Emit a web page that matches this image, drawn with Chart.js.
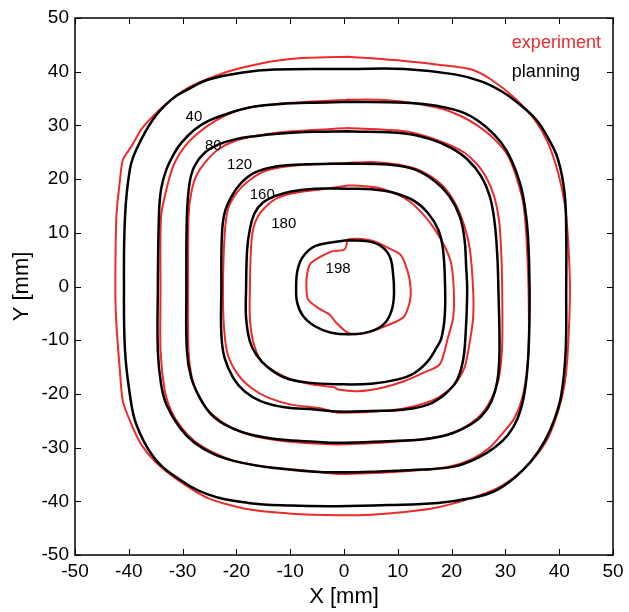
<!DOCTYPE html>
<html>
<head>
<meta charset="utf-8">
<script src="https://cdn.jsdelivr.net/npm/chart.js@4.4.0/dist/chart.umd.min.js"></script>
<style>
  body { margin: 0; background: #fff; }
  #chart { display: block; }
</style>
</head>
<body>
<canvas id="chart" width="629" height="612"></canvas>
<script>
// contour points, [x mm, y mm]
var plan40 = [[0.7,40.5],[11.3,40.5],[20.6,39.5],[25.5,38.2],[29.2,36.4],[32.3,34.2],[35.7,31.1],[37.9,27.7],[39.8,23.6],[41.0,17.4],[41.3,10],[41.3,-0.6],[41.2,-12.0],[40.4,-20.1],[39.2,-24.5],[37.3,-28.8],[34.8,-32.5],[31.7,-35.6],[28.0,-38.1],[23.7,-39.4],[17.5,-40.3],[8.2,-40.7],[-1.1,-40.9],[-9.8,-40.8],[-17.8,-40.3],[-25.3,-38.7],[-31.5,-35.3],[-35.5,-31.6],[-38.6,-25.7],[-39.8,-20.1],[-40.7,-12.0],[-40.9,-0.6],[-40.7,13.1],[-39.8,21.8],[-38.6,25.5],[-35.5,31.1],[-32.1,34.8],[-29.0,36.7],[-25.3,38.5],[-19.1,39.8],[-12.9,40.4],[0.7,40.5]];
var plan80 = [[0.7,34.4],[11.3,34.2],[17.5,33.6],[22.4,32.3],[26.2,29.9],[29.2,26.8],[31.1,23.6],[32.7,19.3],[33.6,15.0],[34.2,9.4],[34.5,-0.6],[34.3,-12.0],[33.6,-19.5],[32.3,-24.5],[30.5,-27.6],[28.0,-30.0],[24.9,-31.9],[20.6,-33.5],[14.4,-34.1],[5.1,-34.5],[-1.1,-34.6],[-5.4,-34.5],[-12.9,-33.8],[-19.1,-32.8],[-24.0,-31.3],[-27.8,-29.1],[-30.5,-26.3],[-33.0,-22.0],[-34.0,-18.2],[-34.6,-12.0],[-34.6,-0.6],[-34.4,13.1],[-34.0,18.1],[-33.0,21.8],[-31.5,24.9],[-30.2,26.8],[-27.8,29.2],[-25.3,30.8],[-22.2,32.0],[-17.8,33.3],[-12.9,33.9],[-6.7,34.2],[0.7,34.4]];
var plan120 = [[0.7,28.9],[11.3,28.5],[16.2,27.4],[19.9,25.8],[23.0,23.6],[25.5,20.5],[27.1,16.8],[28.0,11.9],[28.5,5.6],[28.7,-0.6],[28.9,-12.0],[28.5,-17.6],[27.4,-21.4],[25.5,-24.2],[23.0,-26.0],[19.3,-27.6],[14.4,-28.5],[8.2,-28.8],[-1.1,-29.1],[-5.4,-28.9],[-11.7,-28.5],[-17.2,-27.6],[-21.6,-26.0],[-24.7,-23.8],[-26.8,-20.7],[-28.4,-17.0],[-29.2,-12.0],[-29.3,-0.6],[-29.2,13.1],[-28.7,19.3],[-27.8,22.4],[-25.9,24.9],[-23.4,26.4],[-20.3,27.4],[-16.6,28.0],[-11.7,28.5],[-5.4,28.8],[0.7,28.9]];
var plan160 = [[0.7,22.9],[8.2,22.7],[13.1,21.8],[16.9,19.6],[19.6,16.8],[21.5,13.1],[22.4,8.8],[22.7,3.8],[22.9,-0.6],[22.6,-8.9],[22.1,-13.9],[20.9,-17.6],[18.7,-20.1],[15.6,-22.0],[11.3,-22.9],[5.1,-23.2],[-1.1,-23.3],[-5.4,-22.9],[-11.0,-22.5],[-15.4,-21.4],[-18.5,-19.5],[-20.6,-17.0],[-22.2,-13.3],[-22.8,-8.9],[-22.8,-0.6],[-22.7,9.4],[-22.2,13.7],[-20.9,16.8],[-19.1,19.3],[-16.6,21.2],[-12.9,22.3],[-7.9,22.7],[0.7,22.9]];
var plan180 = [[0.7,18.2],[5.1,18.1],[9.4,17.4],[13.1,15.9],[15.6,13.7],[17.5,10.6],[18.4,6.9],[18.8,-0.6],[18.7,-5.8],[18.1,-9.6],[17.2,-11.4],[15.6,-13.9],[13.1,-16.1],[10.0,-17.3],[5.1,-18.1],[-1.1,-18.2],[-6.7,-17.9],[-11.0,-17.0],[-14.1,-15.1],[-16.3,-12.7],[-17.5,-10.2],[-18.2,-5.8],[-18.2,-0.6],[-18.0,6.9],[-17.5,10.6],[-16.6,13.7],[-15.1,15.6],[-12.9,16.8],[-9.8,17.7],[-5.4,18.2],[0.7,18.2]];
var plan198 = [[0.7,8.6],[4.5,8.4],[6.9,7.5],[8.5,5.6],[9.1,2.6],[9.3,-1.2],[8.9,-4.3],[7.6,-6.8],[5.1,-8.3],[1.4,-8.9],[-2.4,-8.6],[-5.4,-7.4],[-7.6,-5.5],[-8.7,-3.0],[-8.9,0.1],[-8.6,3.2],[-7.6,5.6],[-5.4,7.5],[-2.4,8.2],[0.7,8.6]];

var exp40 = [[0.7,42.8],[11.3,42.0],[17.5,41.3],[23.7,40.4],[27.4,38.5],[31.7,35.1],[35.4,31.1],[37.9,26.8],[39.8,21.2],[41.0,15.6],[41.6,9.4],[42.0,-0.6],[41.6,-12.0],[41.0,-18.2],[39.8,-23.2],[37.9,-28.2],[35.4,-31.9],[32.3,-35.0],[28.6,-37.5],[23.7,-39.4],[17.5,-41.1],[11.3,-42.0],[5.1,-42.5],[-1.1,-42.6],[-9.8,-42.3],[-17.8,-41.5],[-25.3,-39.4],[-31.5,-35.6],[-35.2,-32.5],[-37.7,-29.4],[-39.5,-25.7],[-41.1,-21.4],[-41.7,-15.1],[-42.3,-7.1],[-42.5,-0.6],[-42.3,13.1],[-41.7,19.3],[-41.1,23.6],[-39.5,26.1],[-37.7,29.2],[-35.5,31.7],[-32.1,34.8],[-28.4,37.3],[-22.2,39.8],[-17.8,41.0],[-12.9,42.0],[-6.7,42.6],[0.7,42.8]];
var exp80 = [[0.7,34.8],[8.2,34.7],[17.5,33.3],[21.8,31.7],[24.9,29.9],[28.0,27.4],[30.5,24.3],[32.0,20.5],[33.3,15.6],[33.9,9.4],[34.3,-0.6],[34.3,-12.0],[33.3,-20.1],[31.7,-24.5],[29.6,-27.2],[27.1,-30.0],[23.7,-32.2],[19.3,-33.6],[11.3,-34.4],[-1.1,-34.9],[-6.7,-34.3],[-14.1,-33.6],[-20.3,-32.5],[-24.7,-30.7],[-27.8,-28.8],[-30.2,-26.3],[-32.1,-23.2],[-33.3,-19.5],[-34.1,-12.0],[-34.1,-0.6],[-34.0,13.1],[-32.7,19.3],[-31.5,23.0],[-29.6,26.1],[-27.1,28.6],[-24.0,30.8],[-20.3,32.6],[-16.0,33.6],[-9.8,34.2],[0.7,34.8]];
var exp120 = [[0.7,29.5],[11.3,28.9],[17.5,27.2],[22.4,24.9],[25.5,21.8],[27.7,17.4],[28.8,12.5],[29.2,6.9],[29.4,-0.6],[29.4,-10.8],[28.8,-17.0],[27.5,-20.7],[25.8,-23.5],[23.7,-25.4],[20.6,-27.1],[16.2,-28.2],[8.2,-29.0],[-1.1,-29.4],[-4.2,-29.3],[-11.0,-28.8],[-16.6,-27.9],[-20.9,-26.3],[-24.0,-24.2],[-26.5,-21.4],[-28.1,-17.6],[-28.9,-12.0],[-29.0,-0.6],[-28.9,13.1],[-28.4,17.4],[-27.5,20.5],[-25.9,23.0],[-23.4,25.5],[-20.3,27.1],[-16.0,28.1],[-9.8,28.9],[0.7,29.5]];
var exp160 = [[0.7,23.0],[5.1,23.2],[10.0,22.7],[14.4,21.5],[18.1,19.0],[20.6,15.6],[22.4,11.2],[23.4,6.9],[24.0,-0.6],[24.0,-5.8],[23.4,-10.2],[22.4,-15.1],[20.6,-18.2],[17.5,-20.7],[13.1,-22.3],[8.2,-23.1],[-1.1,-23.5],[-4.2,-22.7],[-9.8,-22.0],[-14.1,-20.7],[-17.2,-18.9],[-19.7,-16.4],[-21.6,-12.7],[-22.3,-7.7],[-22.5,-0.6],[-22.2,9.4],[-21.6,14.3],[-20.0,17.4],[-17.8,19.6],[-14.7,21.5],[-10.4,22.4],[-4.2,22.8],[0.7,23.0]];
var exp180 = [[0.7,18.8],[2.0,18.8],[6.3,18.4],[10.0,17.1],[12.5,15.6],[15.0,13.1],[16.9,10.6],[18.7,7.5],[19.9,4.4],[20.4,-0.6],[20.3,-5.8],[19.3,-9.6],[17.8,-14.5],[14.7,-16.1],[11.3,-17.6],[6.9,-18.9],[2.6,-19.5],[-1.1,-19.2],[-1.7,-18.8],[-6.1,-18.2],[-9.8,-17.3],[-12.9,-15.8],[-15.4,-13.9],[-16.9,-10.2],[-17.5,-5.8],[-17.5,-0.6],[-17.3,6.9],[-16.9,10.6],[-16.0,13.1],[-14.4,15.0],[-12.3,16.5],[-9.2,17.4],[-4.2,18.1],[0.7,18.8]];
var exp198 = [[0.7,8.8],[0.1,6.9],[-2.4,6.5],[-6.1,4.4],[-6.8,2.6],[-7.0,0.1],[-6.7,-2.4],[-4.8,-4.0],[-2.7,-5.2],[-1.4,-6.8],[0.7,-8.6],[3.2,-8.8],[6.9,-7.7],[11.0,-5.8],[11.9,-4.0],[12.4,-1.8],[12.2,1.3],[11.3,4.4],[10.4,6.0],[8.2,7.2],[5.7,8.4],[2.6,8.9],[0.7,8.8]];

var levels = ['40', '80', '120', '160', '180', '198'];
var labelX = [-27.9, -24.3, -19.4, -15.2, -11.2, -1.1];
var labelY = [31.6, 26.1, 22.7, 17.1, 11.7, 3.3];

var axisTicks = [-50, -40, -30, -20, -10, 0, 10, 20, 30, 40, 50];

var FONT = "'Liberation Sans', Arial, Helvetica, sans-serif";

function pts(arr) {
  return arr.map(function(p) { return { x: p[0], y: p[1] }; });
}

var planSets = [plan40, plan80, plan120, plan160, plan180, plan198];
var expSets = [exp40, exp80, exp120, exp160, exp180, exp198];

var datasets = [];
expSets.forEach(function(c, i) {
  datasets.push({ label: 'experiment ' + levels[i], data: pts(c), showLine: true, pointRadius: 0,
    borderColor: '#ee2a2a', borderWidth: 2, tension: 0.25, fill: false, order: 2 });
});
planSets.forEach(function(c, i) {
  datasets.push({ label: 'planning ' + levels[i], data: pts(c), showLine: true, pointRadius: 0,
    borderColor: '#000000', borderWidth: 2.5, tension: 0.4, fill: false, order: 1 });
});

// MATLAB style box, inward ticks, contour labels and text legend
var boxPlugin = {
  id: 'box',
  afterDraw: function(chart) {
    var ctx = chart.ctx;
    var a = chart.chartArea;
    var xs = chart.scales.x, ys = chart.scales.y;
    ctx.save();
    ctx.strokeStyle = '#000';
    ctx.lineWidth = 1;
    ctx.beginPath();
    axisTicks.forEach(function(v) {
      var px = Math.round(xs.getPixelForValue(v)) + 0.5;
      ctx.moveTo(px, a.bottom); ctx.lineTo(px, a.bottom - 6);
      ctx.moveTo(px, a.top); ctx.lineTo(px, a.top + 6);
      var py = Math.round(ys.getPixelForValue(v)) + 0.5;
      ctx.moveTo(a.left, py); ctx.lineTo(a.left + 6, py);
      ctx.moveTo(a.right, py); ctx.lineTo(a.right - 6, py);
    });
    ctx.stroke();
    ctx.lineWidth = 1.5;
    ctx.strokeRect(a.left, a.top, a.right - a.left, a.bottom - a.top);

    ctx.fillStyle = '#000';
    ctx.font = '15px ' + FONT;
    ctx.textAlign = 'center';
    ctx.textBaseline = 'middle';
    levels.forEach(function(t, i) {
      ctx.fillText(t, xs.getPixelForValue(labelX[i]), ys.getPixelForValue(labelY[i]));
    });

    ctx.font = '18px ' + FONT;
    ctx.textAlign = 'left';
    ctx.fillStyle = '#ee2a2a';
    ctx.fillText('experiment', xs.getPixelForValue(31.2), ys.getPixelForValue(45.4));
    ctx.fillStyle = '#000';
    ctx.fillText('planning', xs.getPixelForValue(31.2), ys.getPixelForValue(40.0));
    ctx.restore();
  }
};

new Chart(document.getElementById('chart').getContext('2d'), {
  type: 'scatter',
  data: { datasets: datasets },
  options: {
    responsive: false,
    animation: false,
    layout: { padding: { top: 18, right: 16, left: 0, bottom: 0 } },
    plugins: { legend: { display: false }, tooltip: { enabled: false } },
    scales: {
      x: {
        type: 'linear', min: -50, max: 50,
        afterBuildTicks: function(s) { s.ticks = axisTicks.map(function(v) { return { value: v }; }); },
        afterFit: function(s) { s.height = 57; },
        grid: { display: false, drawTicks: false },
        border: { display: false },
        ticks: { color: '#000', padding: 5, maxRotation: 0, font: { family: FONT, size: 19 } },
        title: { display: true, text: 'X [mm]', color: '#000', padding: { top: 0, bottom: 2 }, font: { family: FONT, size: 22 } }
      },
      y: {
        type: 'linear', min: -50, max: 50,
        afterBuildTicks: function(s) { s.ticks = axisTicks.map(function(v) { return { value: v }; }); },
        afterFit: function(s) { s.width = 75; },
        grid: { display: false, drawTicks: false },
        border: { display: false },
        ticks: { color: '#000', padding: 6, font: { family: FONT, size: 19 } },
        title: { display: true, text: 'Y [mm]', color: '#000', padding: { top: 9, bottom: 0 }, font: { family: FONT, size: 22 } }
      }
    }
  },
  plugins: [boxPlugin]
});
</script>
</body>
</html>
